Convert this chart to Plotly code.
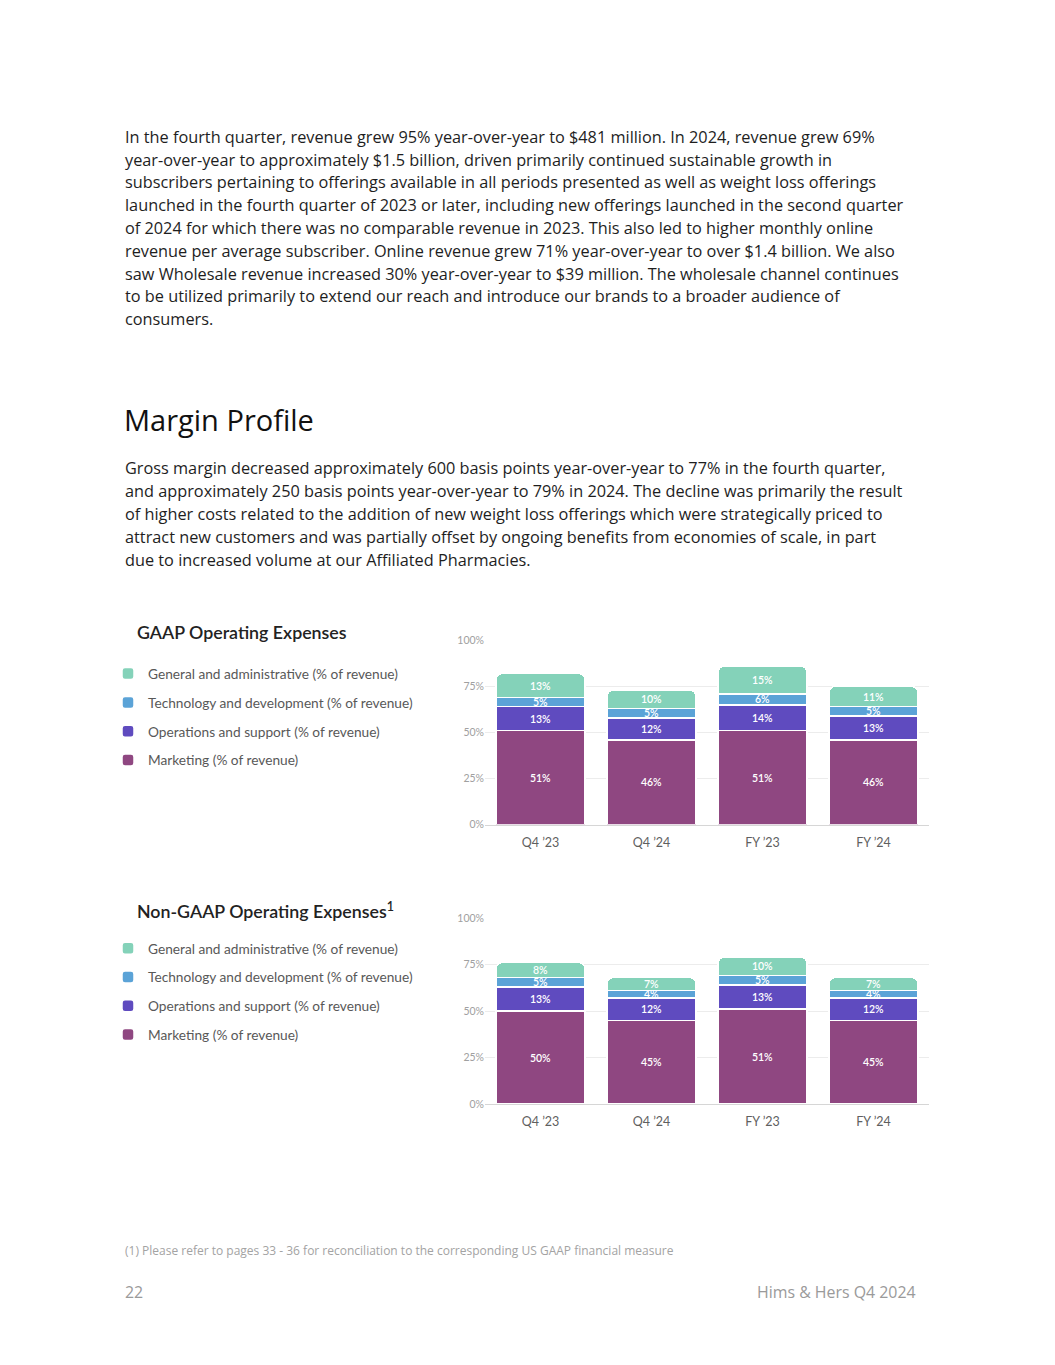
import plotly.graph_objects as go

# page body has an 8px margin, so the figure is drawn 8px in from the window edge
OFF = 8
W, H = 1055 - 2 * OFF, 1365 - 2 * OFF

# ---------------- data ----------------
categories = ["Q4 ’23", "Q4 ’24", "FY ’23", "FY ’24"]
series_names = [
    "Marketing (% of revenue)",
    "Operations and support (% of revenue)",
    "Technology and development (% of revenue)",
    "General and administrative (% of revenue)",
]
gaap_marketing = [51, 46, 51, 46]
gaap_ops = [13, 12, 14, 13]
gaap_tech = [5, 5, 6, 5]
gaap_ga = [13, 10, 15, 11]

nongaap_marketing = [50, 45, 51, 45]
nongaap_ops = [13, 12, 13, 12]
nongaap_tech = [5, 4, 5, 4]
nongaap_ga = [8, 7, 10, 7]

y_tick_values = [0, 25, 50, 75, 100]
y_tick_labels = ["0%", "25%", "50%", "75%", "100%"]

para1 = [
    "In the fourth quarter, revenue grew 95% year-over-year to $481 million. In 2024, revenue grew 69%",
    "year-over-year to approximately $1.5 billion, driven primarily continued sustainable growth in",
    "subscribers pertaining to offerings available in all periods presented as well as weight loss offerings",
    "launched in the fourth quarter of 2023 or later, including new offerings launched in the second quarter",
    "of 2024 for which there was no comparable revenue in 2023. This also led to higher monthly online",
    "revenue per average subscriber. Online revenue grew 71% year-over-year to over $1.4 billion. We also",
    "saw Wholesale revenue increased 30% year-over-year to $39 million. The wholesale channel continues",
    "to be utilized primarily to extend our reach and introduce our brands to a broader audience of",
    "consumers.",
]
para2 = [
    "Gross margin decreased approximately 600 basis points year-over-year to 77% in the fourth quarter,",
    "and approximately 250 basis points year-over-year to 79% in 2024. The decline was primarily the result",
    "of higher costs related to the addition of new weight loss offerings which were strategically priced to",
    "attract new customers and was partially offset by ongoing benefits from economies of scale, in part",
    "due to increased volume at our Affiliated Pharmacies.",
]

# ---------------- styles ----------------
colors = ["#8F4781", "#5F4BBF", "#5BA3D7", "#84D2B9"]
legend_ranks = [4, 3, 2, 1]
BODY_FONT = "Open Sans"
CHART_FONT = "Lato"


def px_x(p):
    return (p - OFF) / W


def px_y(p):
    return 1 - (p - OFF) / H


fig = go.Figure()

gaap = [gaap_marketing, gaap_ops, gaap_tech, gaap_ga]
nongaap = [nongaap_marketing, nongaap_ops, nongaap_tech, nongaap_ga]


def add_series(groups, xa, ya, leg, prefix):
    for i, (name, vals) in enumerate(zip(series_names, groups)):
        fig.add_trace(go.Bar(
            x=categories, y=vals, name=name, xaxis=xa, yaxis=ya,
            text=[f"{v}%" for v in vals], texttemplate="%{text}",
            textposition="inside", insidetextanchor="middle",
            textangle=0, constraintext="none",
            marker=dict(color=colors[i], line=dict(color="white", width=1.5)),
            textfont=dict(color="white", size=10.5, family=CHART_FONT, weight=600),
            legend=leg, legendgroup=prefix + str(i), legendrank=legend_ranks[i],
            hoverinfo="skip",
        ))


add_series(gaap, "x", "y", "legend", "g")
add_series(nongaap, "x2", "y2", "legend2", "n")

xdom = [px_x(485), px_x(929)]
common_x = dict(domain=xdom, showgrid=False, showline=True, linecolor="#d6d6d6",
                linewidth=1, ticks="", ticklabelstandoff=6,
                tickfont=dict(family=CHART_FONT, size=12.5, color="#5f5f5f"),
                fixedrange=True)
common_y = dict(range=[0, 100], tickvals=y_tick_values, ticktext=y_tick_labels,
                showgrid=True, gridcolor="#ececec", gridwidth=1, zeroline=False,
                showline=False, ticks="", tickfont=dict(family=CHART_FONT, size=10.5, color="#a0a0a0"),
                fixedrange=True)

legend_common = dict(
    xanchor="left", yanchor="top", traceorder="grouped",
    tracegroupgap=8, bgcolor="rgba(0,0,0,0)",
    font=dict(family=CHART_FONT, size=13.7, color="#585858"),
    itemclick=False, itemdoubleclick=False,
)

fig.update_layout(
    width=W, height=H,
    margin=dict(l=0, r=0, t=0, b=0),
    paper_bgcolor="white", plot_bgcolor="white",
    barmode="stack", bargap=0.2, barcornerradius=6,
    uniformtext=dict(minsize=10, mode="show"),
    font=dict(family=CHART_FONT),
    xaxis=dict(anchor="y", **common_x),
    yaxis=dict(anchor="x", domain=[px_y(826), px_y(640)], **common_y),
    xaxis2=dict(anchor="y2", **common_x),
    yaxis2=dict(anchor="x2", domain=[px_y(1108), px_y(920)], **common_y),
    legend=dict(x=px_x(108), y=px_y(658), **legend_common),
    legend2=dict(x=px_x(108), y=px_y(935), **legend_common),
)

ann = []
for k, line in enumerate(para1):
    yc = 137 + k * 23 - 5
    ann.append(dict(text=line, x=px_x(123), y=px_y(yc), xanchor="left", yanchor="middle",
                    font=dict(family=BODY_FONT, size=16.3, color="#1e1e1e")))
ann.append(dict(text="Margin Profile", x=px_x(122), y=px_y(417), xanchor="left", yanchor="middle",
                font=dict(family=BODY_FONT, size=29, color="#111111", weight=500)))
for k, line in enumerate(para2):
    yc = 469 + k * 23.25 - 3
    ann.append(dict(text=line, x=px_x(123), y=px_y(yc), xanchor="left", yanchor="middle",
                    font=dict(family=BODY_FONT, size=16.3, color="#1e1e1e")))
ann.append(dict(text="GAAP Operating Expenses", x=px_x(135), y=px_y(632), xanchor="left", yanchor="middle",
                font=dict(family=CHART_FONT, size=17.8, color="#222222", weight=600)))
ann.append(dict(text="Non-GAAP Operating Expenses<sup>1</sup>", x=px_x(135), y=px_y(913), xanchor="left",
                yanchor="middle", font=dict(family=CHART_FONT, size=17.8, color="#222222", weight=600)))
ann.append(dict(text="(1) Please refer to pages 33 - 36 for reconciliation to the corresponding US GAAP financial measure",
                x=px_x(123), y=px_y(1256), xanchor="left", yanchor="middle",
                font=dict(family=BODY_FONT, size=12, color="#a3a3a3")))
ann.append(dict(text="22", x=px_x(123), y=px_y(1297), xanchor="left", yanchor="middle",
                font=dict(family=BODY_FONT, size=15.9, color="#9a9a9a")))
ann.append(dict(text="Hims & Hers Q4 2024", x=px_x(918), y=px_y(1297), xanchor="right", yanchor="middle",
                font=dict(family=BODY_FONT, size=15.9, color="#9a9a9a")))
for a in ann:
    a.update(xref="paper", yref="paper", showarrow=False)
fig.update_layout(annotations=ann)

fig.write_html("out.html", config={"displayModeBar": False})
